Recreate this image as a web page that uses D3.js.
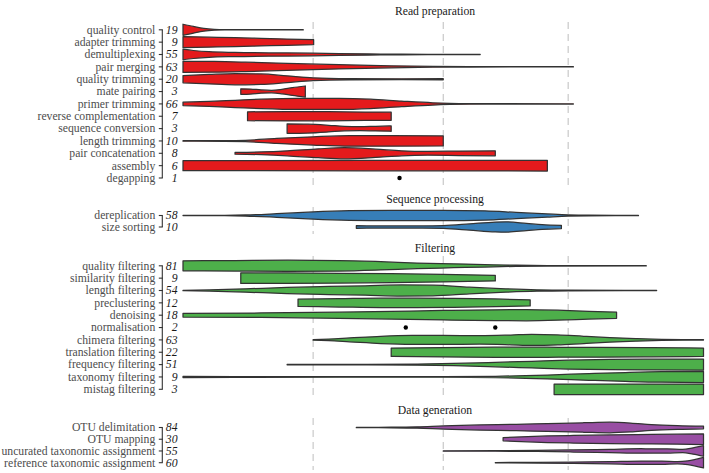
<!DOCTYPE html>
<html>
<head>
<meta charset="utf-8">
<script src="https://cdn.jsdelivr.net/npm/d3@7"></script>
<style>
  html, body { margin: 0; padding: 0; background: #fff; }
  svg { display: block; }
  text { font-family: "Liberation Serif", "Times New Roman", serif; }
</style>
</head>
<body>
<svg id="chart" width="709" height="473"></svg>
<script>
// ---------------- DATA ----------------
const panelTitles = ["Read preparation", "Sequence processing", "Filtering", "Data generation"];
const panelColors = ["#E41A1C", "#377EB8", "#4DAF4A", "#984EA3"];
const gridTicks = [25, 50, 74];

const readPrepSteps = ["quality control", "adapter trimming", "demultiplexing", "pair merging",
  "quality trimming", "mate pairing", "primer trimming", "reverse complementation",
  "sequence conversion", "length trimming", "pair concatenation", "assembly", "degapping"];
const readPrepCounts = [19, 9, 55, 63, 20, 3, 66, 7, 3, 10, 8, 6, 1];
// violin profiles: [position, relative half-width]
const readPrepProfiles = [
  [[0,1.0],[2,0.6],[4,0.25],[6,0.08],[8,0.03],[23.1,0.02]],
  [[0,1.0],[5,0.9],[10,0.8],[15,0.68],[20,0.56],[25.1,0.45]],
  [[0,0.95],[2,0.72],[5,0.5],[10,0.38],[20,0.28],[30,0.17],[38,0.09],[42,0.05],[48,0.03],[57.1,0.02]],
  [[0,1.0],[6,0.97],[12,0.85],[20,0.62],[30,0.38],[40,0.18],[48,0.07],[55,0.03],[75,0.02]],
  [[0,0.65],[5,0.85],[10,1.0],[15,0.95],[20,0.6],[25,0.25],[32,0.1],[42,0.06],[50,0.1]],
  [[11.1,0.5],[13,0.45],[15,0.3],[17,0.22],[19,0.4],[21,0.7],[23.5,1.0]],
  [[0,0.3],[5,0.45],[10,0.65],[15,0.85],[22,1.0],[30,1.0],[36,0.85],[42,0.5],[48,0.2],[55,0.06],[62,0.03],[75,0.02]],
  [[12.4,0.8],[20,0.85],[28,0.82],[35,0.75],[40,0.72]],
  [[20,0.85],[24,0.8],[28,0.6],[31,0.4],[34,0.35],[37,0.42],[40,0.48]],
  [[0,0.05],[8,0.06],[12,0.12],[18,0.45],[25,0.75],[32,0.95],[40,0.95],[50,0.9]],
  [[10,0.15],[15,0.25],[20,0.45],[26,0.8],[31,1.0],[37,0.75],[42,0.45],[47,0.35],[53,0.4],[60,0.45]],
  [[0,0.9],[35,0.93],[70,0.97]],
  null
];
const degappingPoints = [41.6];

const seqProcSteps = ["dereplication", "size sorting"];
const seqProcCounts = [58, 10];
const seqProcProfiles = [
  [[0,0.02],[8,0.04],[12,0.1],[18,0.35],[25,0.7],[32,0.92],[40,1.0],[50,1.0],[58,0.9],[64,0.6],[70,0.3],[74,0.12],[78,0.05],[87.5,0.03]],
  [[33.3,0.25],[40,0.2],[46,0.2],[50,0.28],[55,0.6],[60,0.95],[62,1.0],[66,0.7],[69,0.45],[72.7,0.3]]
];

const filteringSteps = ["quality filtering", "similarity filtering", "length filtering", "preclustering",
  "denoising", "normalisation", "chimera filtering", "translation filtering", "frequency filtering",
  "taxonomy filtering", "mistag filtering"];
const filteringCounts = [81, 9, 54, 12, 18, 2, 63, 22, 51, 9, 3];
const filteringProfiles = [
  [[0,0.9],[10,0.95],[20,1.0],[30,0.95],[38,0.75],[45,0.5],[52,0.35],[58,0.22],[64,0.1],[70,0.04],[89,0.02]],
  [[11.1,0.95],[20,0.93],[30,0.88],[40,0.8],[50,0.68],[60,0.5]],
  [[0,0.03],[5,0.1],[12,0.3],[20,0.55],[28,0.72],[35,0.85],[42,1.0],[48,0.95],[55,0.6],[62,0.3],[68,0.12],[74,0.05],[91,0.02]],
  [[22.1,0.65],[30,0.75],[38,0.85],[45,0.85],[52,0.8],[60,0.7],[66.7,0.55]],
  [[0,0.33],[15,0.4],[30,0.55],[40,0.7],[50,0.85],[60,0.97],[66,1.0],[72,0.9],[78,0.7],[83.3,0.55]],
  null,
  [[25,0.05],[28,0.15],[32,0.35],[38,0.65],[44,0.8],[50,0.82],[57,0.76],[63,0.88],[67,1.0],[72,0.9],[77,0.65],[82,0.42],[87,0.24],[92,0.1],[96,0.05],[100,0.03]],
  [[40,0.75],[50,0.85],[60,0.9],[70,0.9],[80,0.88],[90,0.82],[100,0.75]],
  [[20,0.03],[35,0.05],[45,0.1],[52,0.2],[60,0.4],[67,0.6],[74,0.8],[82,0.92],[90,0.97],[100,1.0]],
  [[0,0.1],[10,0.06],[30,0.04],[50,0.05],[60,0.12],[70,0.35],[78,0.6],[85,0.8],[92,0.95],[100,1.0]],
  [[71.3,0.95],[100,0.95]]
];
const normalisationPoints = [42.8, 60.0];

const dataGenSteps = ["OTU delimitation", "OTU mapping", "uncurated taxonomic assignment", "reference taxonomic assignment"];
const dataGenCounts = [84, 30, 55, 60];
const dataGenProfiles = [
  [[33.3,0.03],[40,0.06],[45,0.13],[50,0.3],[57,0.48],[64,0.6],[70,0.75],[77,0.9],[82,1.0],[86,0.85],[90,0.55],[95,0.35],[100,0.25]],
  [[61.5,0.3],[65,0.45],[70,0.62],[75,0.72],[82,0.82],[90,0.9],[100,1.0]],
  [[50,0.03],[60,0.05],[68,0.1],[75,0.2],[82,0.32],[88,0.42],[93,0.4],[96,0.3],[98,0.6],[100,1.0]],
  [[60,0.03],[68,0.06],[75,0.12],[82,0.22],[88,0.32],[92,0.3],[95,0.2],[97,0.35],[100,1.0]]
];

// ---------------- LAYOUT ----------------
const svg = d3.select("#chart");
const x = d3.scaleLinear().domain([0, 100]).range([183, 703.5]);

const panels = [
  { title: panelTitles[0], color: panelColors[0], steps: readPrepSteps, counts: readPrepCounts, profiles: readPrepProfiles,
    points: { "degapping": degappingPoints }, rowTop: 29.8, rowBottom: 178, titleY: 15, gridTop: 22, gridBottom: 185 },
  { title: panelTitles[1], color: panelColors[1], steps: seqProcSteps, counts: seqProcCounts, profiles: seqProcProfiles,
    points: {}, rowTop: 215.5, rowBottom: 227, titleY: 202.5, gridTop: 207, gridBottom: 234 },
  { title: panelTitles[2], color: panelColors[2], steps: filteringSteps, counts: filteringCounts, profiles: filteringProfiles,
    points: { "normalisation": normalisationPoints }, rowTop: 265.8, rowBottom: 389.3, titleY: 251.7, gridTop: 256, gridBottom: 395 },
  { title: panelTitles[3], color: panelColors[3], steps: dataGenSteps, counts: dataGenCounts, profiles: dataGenProfiles,
    points: {}, rowTop: 427.5, rowBottom: 462.7, titleY: 414, gridTop: 418, gridBottom: 470 }
];

const fontSize = 11.7;
const axisX = 162.3;

panels.forEach(p => {
  const y = d3.scalePoint().domain(p.steps).range([p.rowTop, p.rowBottom]);
  const step = (p.rowBottom - p.rowTop) / (p.steps.length - 1);
  const hw = step * 0.45;
  const g = svg.append("g");

  // grid lines
  g.selectAll("line.grid").data(gridTicks).join("line")
    .attr("x1", d => x(d)).attr("x2", d => x(d))
    .attr("y1", p.gridTop).attr("y2", p.gridBottom)
    .attr("stroke", "#c4c4c4").attr("stroke-width", 1.1)
    .attr("stroke-dasharray", "7,5");

  // title
  g.append("text").attr("x", 435).attr("y", p.titleY)
    .attr("text-anchor", "middle").attr("font-size", fontSize).attr("fill", "#1a1a1a")
    .text(p.title);

  // violins
  p.steps.forEach((s, i) => {
    const prof = p.profiles[i];
    const cy = y(s);
    if (prof) {
      const area = d3.area()
        .x(d => x(d[0]))
        .y0(d => cy - d[1] * hw)
        .y1(d => cy + d[1] * hw)
        .curve(d3.curveMonotoneX);
      g.append("path").attr("d", area(prof))
        .attr("fill", p.color).attr("stroke", "#333333").attr("stroke-width", 1.25)
        .attr("stroke-linejoin", "round");
    }
    const pts = p.points[s];
    if (pts) {
      g.selectAll(null).data(pts).join("circle")
        .attr("cx", d => x(d)).attr("cy", cy).attr("r", 2.2).attr("fill", "#000");
    }
  });

  // axis bracket
  const ax = g.append("g");
  ax.append("line").attr("x1", axisX).attr("x2", axisX)
    .attr("y1", p.rowTop).attr("y2", p.rowBottom)
    .attr("stroke", "#333").attr("stroke-width", 1.1);
  ax.selectAll("line.tick").data(p.steps).join("line")
    .attr("x1", axisX - 3.5).attr("x2", axisX + 0.5)
    .attr("y1", d => y(d)).attr("y2", d => y(d))
    .attr("stroke", "#333").attr("stroke-width", 1.1);
  ax.selectAll("text.lab").data(p.steps).join("text")
    .attr("x", axisX - 7).attr("y", d => y(d)).attr("dy", "0.33em")
    .attr("text-anchor", "end").attr("font-size", fontSize).attr("fill", "#4d4d4d")
    .text(d => d);
  ax.selectAll("text.cnt").data(p.counts).join("text")
    .attr("x", 177.5).attr("y", (d, i) => y(p.steps[i])).attr("dy", "0.33em")
    .attr("text-anchor", "end").attr("font-size", fontSize).attr("font-style", "italic")
    .attr("fill", "#1a1a1a")
    .text(d => d);
});
</script>
</body>
</html>
